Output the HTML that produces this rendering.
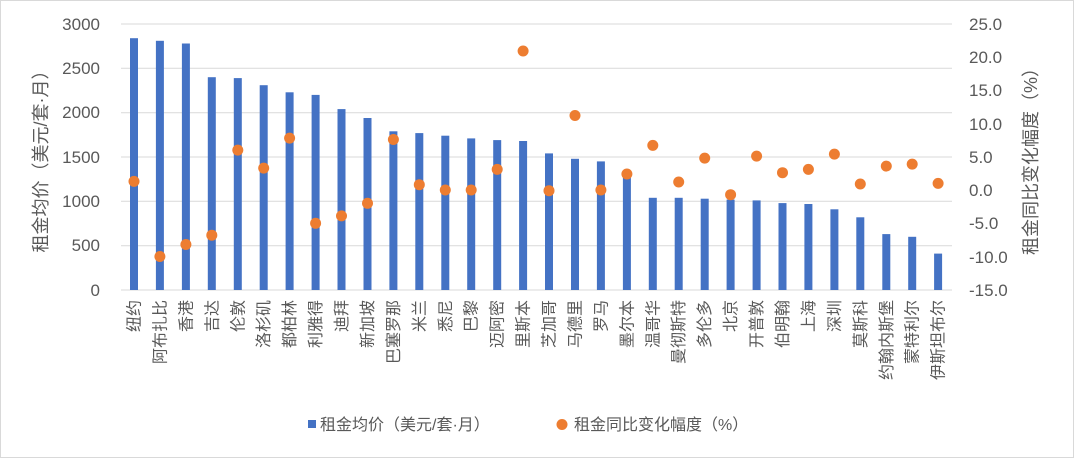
<!DOCTYPE html>
<html><head><meta charset="utf-8"><style>
html,body{margin:0;padding:0;background:#fff}
svg text{font-family:"Liberation Sans","Noto Sans CJK SC",sans-serif;fill:#595959}
</style></head><body>
<svg width="1074" height="458" viewBox="0 0 1074 458" xmlns="http://www.w3.org/2000/svg">
<rect x="0.5" y="0.5" width="1073" height="457" fill="#fff" stroke="#d9d9d9"/>
<g stroke="#d9d9d9" stroke-width="1">
<line x1="121" x2="952" y1="24" y2="24"/><line x1="121" x2="952" y1="68.3" y2="68.3"/><line x1="121" x2="952" y1="112.7" y2="112.7"/><line x1="121" x2="952" y1="157" y2="157"/><line x1="121" x2="952" y1="201.3" y2="201.3"/><line x1="121" x2="952" y1="245.7" y2="245.7"/><line x1="121" x2="952" y1="290" y2="290"/>
</g>
<g font-size="17" text-anchor="end">
<text x="100" y="30">3000</text><text x="100" y="74">2500</text><text x="100" y="118">2000</text><text x="100" y="163">1500</text><text x="100" y="207">1000</text><text x="100" y="251">500</text><text x="100" y="296">0</text>
</g>
<g font-size="17" text-anchor="start">
<text x="969" y="30">25.0</text><text x="969" y="63">20.0</text><text x="969" y="96">15.0</text><text x="969" y="130">10.0</text><text x="969" y="163">5.0</text><text x="969" y="196">0.0</text><text x="969" y="229">-5.0</text><text x="969" y="263">-10.0</text><text x="969" y="296">-15.0</text>
</g>
<text font-size="18" transform="translate(47,157) rotate(-90)" text-anchor="middle">租金均价（美元/套·月）</text>
<text font-size="18" transform="translate(1037,157) rotate(-90)" text-anchor="middle">租金同比变化幅度（%）</text>
<g fill="#4472c4">
<rect x="130" y="38.2" width="8" height="251.8"/><rect x="155.9" y="40.8" width="8" height="249.2"/><rect x="181.9" y="43.5" width="8" height="246.5"/><rect x="207.8" y="77.2" width="8" height="212.8"/><rect x="233.8" y="78.1" width="8" height="211.9"/><rect x="259.7" y="85.2" width="8" height="204.8"/><rect x="285.6" y="92.3" width="8" height="197.7"/><rect x="311.6" y="94.9" width="8" height="195.1"/><rect x="337.5" y="109.1" width="8" height="180.9"/><rect x="363.5" y="118" width="8" height="172"/><rect x="389.4" y="131.3" width="8" height="158.7"/><rect x="415.3" y="133.1" width="8" height="156.9"/><rect x="441.3" y="135.7" width="8" height="154.3"/><rect x="467.2" y="138.4" width="8" height="151.6"/><rect x="493.2" y="140.1" width="8" height="149.9"/><rect x="519.1" y="141" width="8" height="149"/><rect x="545" y="153.4" width="8" height="136.6"/><rect x="571" y="158.8" width="8" height="131.2"/><rect x="596.9" y="161.4" width="8" height="128.6"/><rect x="622.9" y="175.6" width="8" height="114.4"/><rect x="648.8" y="197.8" width="8" height="92.2"/><rect x="674.7" y="197.8" width="8" height="92.2"/><rect x="700.7" y="198.7" width="8" height="91.3"/><rect x="726.6" y="199.6" width="8" height="90.4"/><rect x="752.6" y="200.4" width="8" height="89.6"/><rect x="778.5" y="203.1" width="8" height="86.9"/><rect x="804.4" y="204" width="8" height="86"/><rect x="830.4" y="209.3" width="8" height="80.7"/><rect x="856.3" y="217.3" width="8" height="72.7"/><rect x="882.3" y="234.1" width="8" height="55.9"/><rect x="908.2" y="236.8" width="8" height="53.2"/><rect x="934.1" y="253.6" width="8" height="36.4"/>
</g>
<g fill="#ed7d31">
<circle cx="134" cy="181.4" r="5.5"/><circle cx="159.9" cy="256.5" r="5.5"/><circle cx="185.9" cy="244.5" r="5.5"/><circle cx="211.8" cy="235.2" r="5.5"/><circle cx="237.8" cy="150.1" r="5.5"/><circle cx="263.7" cy="168.1" r="5.5"/><circle cx="289.6" cy="138.1" r="5.5"/><circle cx="315.6" cy="223.3" r="5.5"/><circle cx="341.5" cy="215.9" r="5.5"/><circle cx="367.5" cy="203.3" r="5.5"/><circle cx="393.4" cy="139.5" r="5.5"/><circle cx="419.3" cy="184.7" r="5.5"/><circle cx="445.3" cy="190" r="5.5"/><circle cx="471.2" cy="190" r="5.5"/><circle cx="497.2" cy="169.4" r="5.5"/><circle cx="523.1" cy="51" r="5.5"/><circle cx="549" cy="190.7" r="5.5"/><circle cx="575" cy="115.5" r="5.5"/><circle cx="600.9" cy="190" r="5.5"/><circle cx="626.9" cy="174" r="5.5"/><circle cx="652.8" cy="145.4" r="5.5"/><circle cx="678.7" cy="182" r="5.5"/><circle cx="704.7" cy="158.1" r="5.5"/><circle cx="730.6" cy="194.7" r="5.5"/><circle cx="756.6" cy="156.1" r="5.5"/><circle cx="782.5" cy="172.7" r="5.5"/><circle cx="808.4" cy="169.4" r="5.5"/><circle cx="834.4" cy="154.1" r="5.5"/><circle cx="860.3" cy="184" r="5.5"/><circle cx="886.3" cy="166.1" r="5.5"/><circle cx="912.2" cy="164.1" r="5.5"/><circle cx="938.1" cy="183.4" r="5.5"/>
</g>
<g font-size="16" text-anchor="end">
<text transform="translate(139.5,300) rotate(-90)">纽约</text>
<text transform="translate(165.4,300) rotate(-90)">阿布扎比</text>
<text transform="translate(191.4,300) rotate(-90)">香港</text>
<text transform="translate(217.3,300) rotate(-90)">吉达</text>
<text transform="translate(243.3,300) rotate(-90)">伦敦</text>
<text transform="translate(269.2,300) rotate(-90)">洛杉矶</text>
<text transform="translate(295.1,300) rotate(-90)">都柏林</text>
<text transform="translate(321.1,300) rotate(-90)">利雅得</text>
<text transform="translate(347,300) rotate(-90)">迪拜</text>
<text transform="translate(373,300) rotate(-90)">新加坡</text>
<text transform="translate(398.9,300) rotate(-90)">巴塞罗那</text>
<text transform="translate(424.8,300) rotate(-90)">米兰</text>
<text transform="translate(450.8,300) rotate(-90)">悉尼</text>
<text transform="translate(476.7,300) rotate(-90)">巴黎</text>
<text transform="translate(502.7,300) rotate(-90)">迈阿密</text>
<text transform="translate(528.6,300) rotate(-90)">里斯本</text>
<text transform="translate(554.5,300) rotate(-90)">芝加哥</text>
<text transform="translate(580.5,300) rotate(-90)">马德里</text>
<text transform="translate(606.4,300) rotate(-90)">罗马</text>
<text transform="translate(632.4,300) rotate(-90)">墨尔本</text>
<text transform="translate(658.3,300) rotate(-90)">温哥华</text>
<text transform="translate(684.2,300) rotate(-90)">曼彻斯特</text>
<text transform="translate(710.2,300) rotate(-90)">多伦多</text>
<text transform="translate(736.1,300) rotate(-90)">北京</text>
<text transform="translate(762.1,300) rotate(-90)">开普敦</text>
<text transform="translate(788,300) rotate(-90)">伯明翰</text>
<text transform="translate(813.9,300) rotate(-90)">上海</text>
<text transform="translate(839.9,300) rotate(-90)">深圳</text>
<text transform="translate(865.8,300) rotate(-90)">莫斯科</text>
<text transform="translate(891.8,300) rotate(-90)">约翰内斯堡</text>
<text transform="translate(917.7,300) rotate(-90)">蒙特利尔</text>
<text transform="translate(943.6,300) rotate(-90)">伊斯坦布尔</text>
</g>
<rect x="308" y="420" width="8" height="8" fill="#4472c4"/>
<text x="320" y="430" font-size="16">租金均价（美元/套·月）</text>
<circle cx="562" cy="424.5" r="5.5" fill="#ed7d31"/>
<text x="574" y="430" font-size="16">租金同比变化幅度（%）</text>
</svg>
</body></html>
